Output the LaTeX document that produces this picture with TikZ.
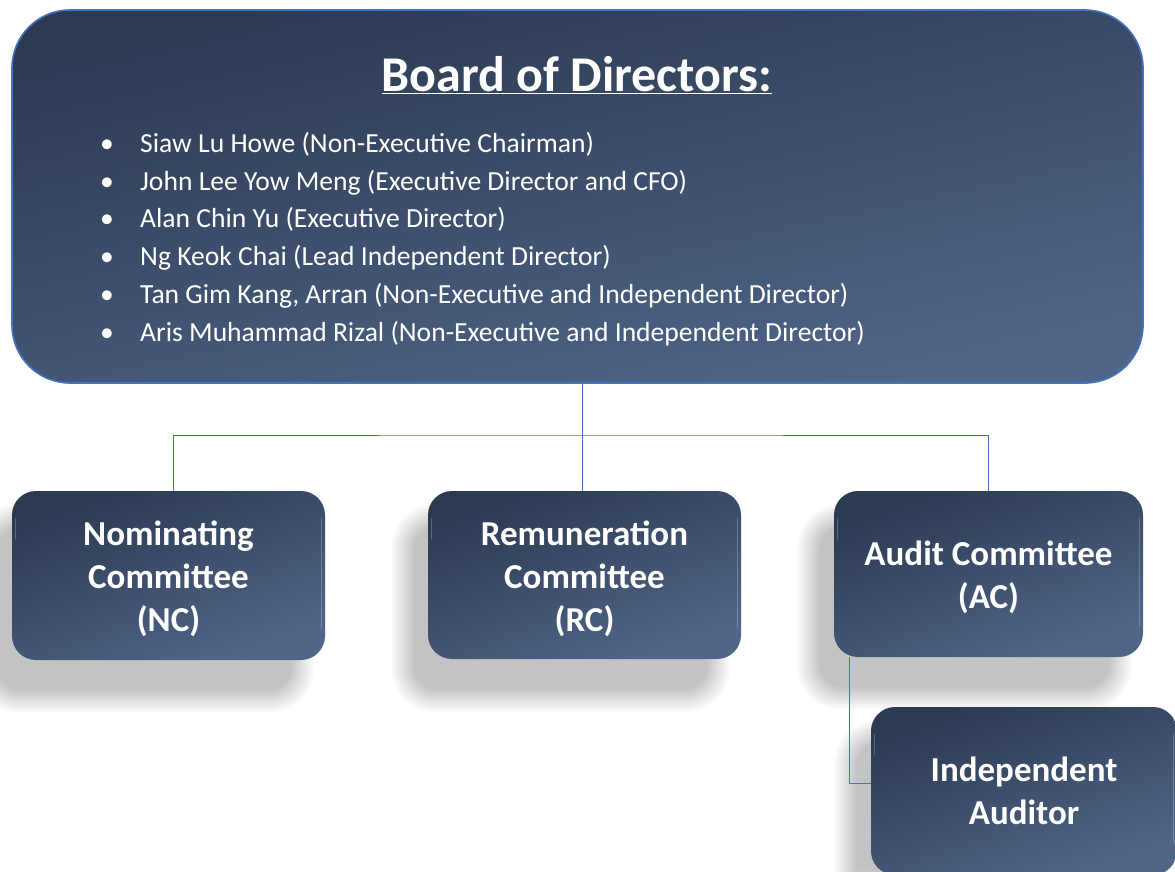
\documentclass[tikz,border=0pt]{standalone}
\usepackage{fontspec}
\setmainfont{Carlito}
\usetikzlibrary{calc,backgrounds}
\definecolor{navydark}{HTML}{2C3A52}
\definecolor{navylight}{HTML}{506689}
\definecolor{linkblue}{HTML}{4472C4}
\tikzset{
  panel/.style={rounded corners=24pt, top color=navydark, bottom color=navylight,
    shading angle=20, text=white, align=center,
    font=\bfseries\fontsize{35}{43}\selectfont},
  boardbox/.style={rounded corners=58pt, top color=navydark, bottom color=navylight,
    shading angle=12, draw=linkblue, line width=1.6pt},
  conn/.style={draw=linkblue, line width=0.9pt},
  bevel/.style={draw=white, draw opacity=0.22, line width=1.3pt, line cap=round}
}
% soft drop shadow behind a node: stacked translucent rounded boxes
\newcommand{\dropshade}[1]{%
  \foreach \k in {0,...,19}{%
    \fill[black, opacity=0.0115, rounded corners={24pt+\k pt}]
      ($(#1.north west)+(-14-\k*1.2, 36-\k*1.2)$) rectangle
      ($(#1.south east)+(-34+\k*1.2, 30+\k*1.2)$);
  }%
}
\begin{document}
\begin{tikzpicture}[x=1pt, y=-1pt]
\useasboundingbox (0,0) rectangle (1175,871);

% Board of Directors panel
\node[boardbox, minimum width=1131pt, minimum height=373pt] (board) at (577.5,196.5) {};
\node[text=white, font=\bfseries\fontsize{50}{56}\selectfont, anchor=base] (title) at (577,91)
  {\underline{Board of Directors:}};
\node[text=white, anchor=north west, align=left, inner sep=0pt,
  font=\fontsize{27.6}{37.8}\selectfont] (members) at (100,132) {%
  \makebox[40pt][l]{\textbullet}Siaw Lu Howe (Non-Executive Chairman)\\
  \makebox[40pt][l]{\textbullet}John Lee Yow Meng (Executive Director and CFO)\\
  \makebox[40pt][l]{\textbullet}Alan Chin Yu (Executive Director)\\
  \makebox[40pt][l]{\textbullet}Ng Keok Chai (Lead Independent Director)\\
  \makebox[40pt][l]{\textbullet}Tan Gim Kang, Arran (Non-Executive and Independent Director)\\
  \makebox[40pt][l]{\textbullet}Aris Muhammad Rizal (Non-Executive and Independent Director)};

% Committees
\node[panel, minimum width=313pt, minimum height=169pt] (nc) at (168.5,575.5)
  {\rule{0pt}{32pt}Nominating\\Committee\\(NC)};
\node[panel, minimum width=313pt, minimum height=168pt] (rc) at (584.5,575)
  {\rule{0pt}{32pt}Remuneration\\Committee\\(RC)};
\node[panel, minimum width=309pt, minimum height=166pt] (ac) at (988.5,574)
  {\rule{0pt}{32pt}Audit Committee\\(AC)};
\node[panel, minimum width=306pt, minimum height=168pt] (ia) at (1024,791)
  {Independent\\Auditor};

% light bevel along the right edges and at the upper left corners
\foreach \n in {nc,rc,ac,ia}{
  \draw[bevel] ($(\n.north east)+(-4,28)$) -- ($(\n.south east)+(-4,-32)$);
  \draw[bevel] ($(\n.north west)+(4,28)$) -- ($(\n.north west)+(4,48)$);
}

\begin{scope}[on background layer]
  \fill[white] (0,0) rectangle (1175,871);
  \dropshade{nc}
  \dropshade{rc}
  \dropshade{ac}
  \dropshade{ia}
\end{scope}

% Connectors
\coordinate (bus) at (582,435);
\draw[conn] (board.south -| bus) -- (bus);
\draw[conn] ([xshift=4.5pt]nc.north) |- (bus) -| (ac.north);
\draw[conn] (bus) -- (bus |- rc.north);
\draw[conn] ([xshift=16pt]ac.south west) |- ([yshift=8pt]ia.west);
\end{tikzpicture}
\end{document}
